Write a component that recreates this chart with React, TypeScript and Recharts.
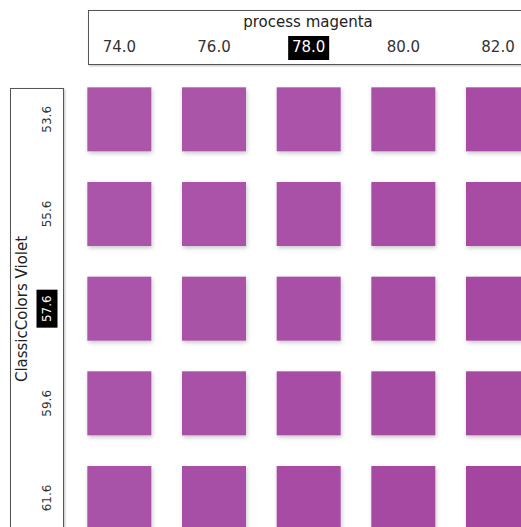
import React from 'react';
import { ScatterChart, Scatter, XAxis, YAxis, Customized } from 'recharts';

// ---- data ----
const xValues = [74.0, 76.0, 78.0, 80.0, 82.0];
const yValues = [53.6, 55.6, 57.6, 59.6, 61.6];
const cellColors = [
  ['#AC56AA', '#AB54A9', '#AA52A8', '#A94FA6', '#A84CA4'],
  ['#AB55AA', '#AA53A8', '#A951A7', '#A84EA5', '#A74BA3'],
  ['#AA54A9', '#A952A7', '#A850A6', '#A74DA4', '#A64AA2'],
  ['#A953A9', '#A851A7', '#A74EA5', '#A64BA3', '#A548A1'],
  ['#A852A8', '#A750A6', '#A74CA4', '#A549A2', '#A4459F'],
];
const xTitle = 'process magenta';
const yTitle = 'ClassicColors Violet';
const xHighlight = 78.0;
const yHighlight = 57.6;

const points = yValues.flatMap((y, r) =>
  xValues.map((x, c) => ({ x, y, color: cellColors[r][c] }))
);

// ---- layout ----
const FONT = '"DejaVu Sans", Verdana, sans-serif';
const CHART_W = 640;
const CHART_H = 640;
const AXIS_W = 72;
const CELL = 64;

const CellShape = (props: any) => {
  const { cx, cy, payload } = props;
  if (cx == null || cy == null) return null;
  return (
    <rect
      x={cx - CELL / 2}
      y={cy - CELL / 2}
      width={CELL}
      height={CELL}
      fill={payload.color}
      filter="url(#cellShadow)"
    />
  );
};

const XTick = (props: any) => {
  const { x, payload } = props;
  const v = Number(payload.value);
  const hl = Math.abs(v - xHighlight) < 1e-6;
  return (
    <g>
      {hl && <rect x={x - 20.5} y={36} width={41} height={24} fill="#000" />}
      <text
        x={x}
        y={52}
        textAnchor="middle"
        fontFamily={FONT}
        fontSize={15}
        fill={hl ? '#fff' : '#333'}
      >
        {v.toFixed(1)}
      </text>
    </g>
  );
};

const YTick = (props: any) => {
  const { y, payload } = props;
  const v = Number(payload.value);
  const hl = Math.abs(v - yHighlight) < 1e-6;
  return (
    <g transform={`translate(47, ${y}) rotate(-90)`}>
      {hl && <rect x={-19} y={-10.5} width={38} height={21} fill="#000" />}
      <text
        x={0}
        y={0}
        dy="0.36em"
        textAnchor="middle"
        fontFamily={FONT}
        fontSize={12}
        fill={hl ? '#fff' : '#333'}
      >
        {v.toFixed(1)}
      </text>
    </g>
  );
};

const Decorations = () => (
  <g>
    <defs>
      <filter id="cellShadow" x="-20%" y="-20%" width="150%" height="150%">
        <feDropShadow dx="1" dy="2" stdDeviation="2" floodColor="#000" floodOpacity="0.22" />
      </filter>
      <filter id="boxShadow" x="-10%" y="-10%" width="130%" height="130%">
        <feDropShadow dx="1" dy="1" stdDeviation="1" floodColor="#000" floodOpacity="0.25" />
      </filter>
    </defs>
    <rect x={88.5} y={10.5} width={440} height={54} fill="#fff" stroke="#555" strokeWidth={1} filter="url(#boxShadow)" />
    <rect x={10.5} y={88.5} width={53} height={440} fill="#fff" stroke="#555" strokeWidth={1} filter="url(#boxShadow)" />
    <text x={308} y={27} textAnchor="middle" fontFamily={FONT} fontSize={15} fill="#222">
      {xTitle}
    </text>
    <g transform="translate(22, 309) rotate(-90)">
      <text x={0} y={0} dy="0.36em" textAnchor="middle" fontFamily={FONT} fontSize={15} fill="#222">
        {yTitle}
      </text>
    </g>
  </g>
);

export default function App() {
  return (
    <div
      style={{
        position: 'absolute',
        left: 0,
        top: 0,
        width: 521,
        height: 527,
        overflow: 'hidden',
        background: '#fff',
      }}
    >
      <ScatterChart
        width={CHART_W}
        height={CHART_H}
        margin={{ top: 0, right: 0, bottom: 0, left: 0 }}
      >
        <Customized component={Decorations} />
        <XAxis
          dataKey="x"
          type="number"
          orientation="top"
          domain={[73, 85]}
          allowDataOverflow
          ticks={xValues}
          interval={0}
          height={AXIS_W}
          axisLine={false}
          tickLine={false}
          tick={<XTick />}
        />
        <YAxis
          dataKey="y"
          type="number"
          domain={[52.6, 64.6]}
          allowDataOverflow
          reversed
          ticks={yValues}
          interval={0}
          width={AXIS_W}
          axisLine={false}
          tickLine={false}
          tick={<YTick />}
        />
        <Scatter data={points} shape={<CellShape />} isAnimationActive={false} />
      </ScatterChart>
    </div>
  );
}
